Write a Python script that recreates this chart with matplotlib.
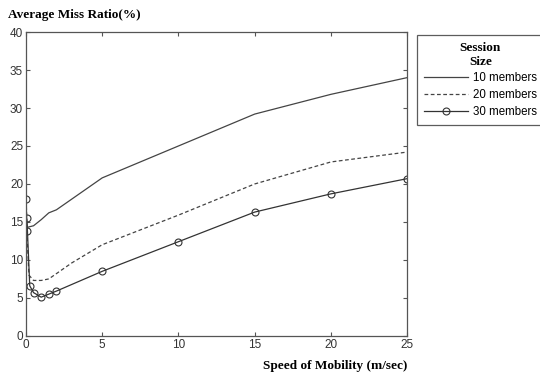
import matplotlib
matplotlib.use("Agg")
import matplotlib.pyplot as plt

# data
x10 = [0.01, 0.03, 0.1, 0.5, 1, 1.5, 2, 5, 10, 15, 20, 25]
y10 = [28, 15.5, 14.3, 14.5, 15.3, 16.2, 16.6, 20.8, 25.0, 29.2, 31.8, 34.0]

x20 = [0.01, 0.03, 0.1, 0.2, 0.5, 1, 1.5, 2, 3, 5, 10, 15, 20, 25]
y20 = [22, 17, 12, 8.0, 7.3, 7.3, 7.5, 8.2, 9.6, 12.0, 15.9, 20.0, 22.9, 24.2]

x30 = [0.0, 0.05, 0.1, 0.25, 0.5, 1, 1.5, 2, 5, 10, 15, 20, 25]
y30 = [18.0, 15.5, 13.8, 6.6, 5.7, 5.1, 5.5, 5.9, 8.5, 12.4, 16.3, 18.7, 20.7]

labels = ["10 members", "20 members", "30 members"]

plt.rcParams['font.family'] = ['Liberation Sans', 'DejaVu Sans']
serif = 'Liberation Serif'

fig = plt.figure(figsize=(5.4, 3.77), dpi=100)
ax = fig.add_axes([0.048, 0.109, 0.706, 0.806])

ax.plot(x10, y10, color='#444444', lw=0.9, label=labels[0])
ax.plot(x20, y20, color='#444444', lw=0.9, ls=(0, (3, 2)), label=labels[1])
ax.plot(x30, y30, color='#333333', lw=0.9, marker='o', ms=5, mfc='none',
        mec='#333333', mew=0.8, label=labels[2])

ax.set_xlim(0, 25)
ax.set_ylim(0, 40)
ax.set_xticks([0, 5, 10, 15, 20, 25])
ax.set_yticks(range(0, 41, 5))
ax.tick_params(direction='in', top=True, right=True, length=3, labelsize=8.5,
               colors='#555555', labelcolor='#333333', pad=2)
for s in ax.spines.values():
    s.set_color('#555555')
    s.set_linewidth(0.9)

fig.text(0.015, 0.975, "Average Miss Ratio(%)", family=serif, weight='bold',
         fontsize=9.5, va='top', ha='left')
fig.text(0.754, 0.012, "Speed of Mobility (m/sec)", family=serif, weight='bold',
         fontsize=9.5, va='bottom', ha='right')

leg = fig.legend(loc='upper left', bbox_to_anchor=(0.762, 0.922), frameon=True,
                 fontsize=8.3, handlelength=3.8, title="Session\nSize",
                 fancybox=False, edgecolor='#333333', borderpad=0.6,
                 labelspacing=0.4, handletextpad=0.4)
leg.get_title().set_family(serif)
leg.get_title().set_weight('bold')
leg.get_title().set_fontsize(9.5)
leg.get_title().set_multialignment('center')
leg.get_frame().set_linewidth(0.9)

fig.savefig("out.png", dpi=100)
